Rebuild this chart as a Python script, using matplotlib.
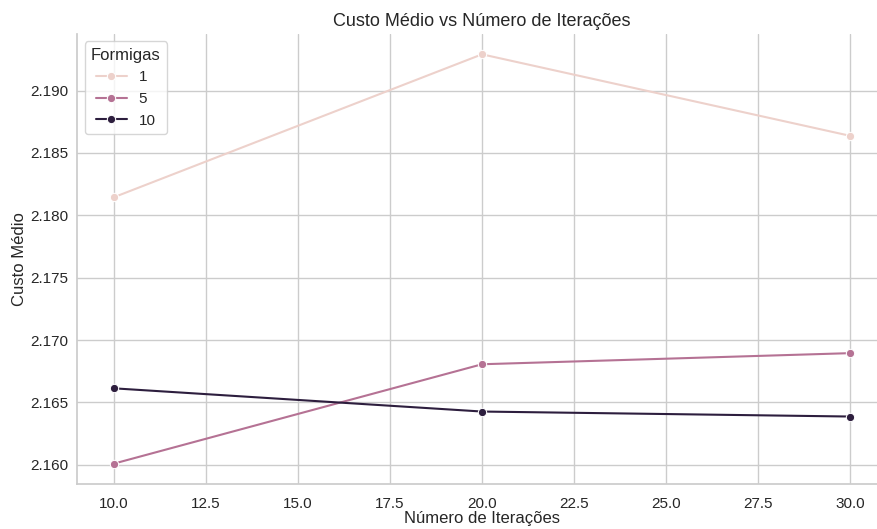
import pandas as pd
import seaborn as sns
import matplotlib.pyplot as plt

iteracoes = [10, 20, 30]
custo_1 = [2.18145, 2.19290, 2.18637]
custo_5 = [2.16010, 2.16806, 2.16895]
custo_10 = [2.16613, 2.16427, 2.16387]
formigas = [1, 5, 10]

df = pd.DataFrame({
    'Iteracoes': iteracoes * 3,
    'Custo': custo_1 + custo_5 + custo_10,
    'Formigas': [f for f in formigas for _ in iteracoes],
})

sns.set_theme(style='whitegrid')
plt.rcParams['font.family'] = ['Liberation Sans', 'DejaVu Sans']

fig, ax = plt.subplots(figsize=(8.78, 5.29), dpi=100)
sns.lineplot(data=df, x='Iteracoes', y='Custo', hue='Formigas', marker='o', ax=ax)
sns.despine(ax=ax)
ax.set_title('Custo Médio vs Número de Iterações', fontsize=13)
ax.set_xlabel('Número de Iterações', labelpad=0)
ax.set_ylabel('Custo Médio', labelpad=2)
ax.set_yticks([2.160, 2.165, 2.170, 2.175, 2.180, 2.185, 2.190])
ax.set_yticklabels(['2.160', '2.165', '2.170', '2.175', '2.180', '2.185', '2.190'])
ypad = plt.rcParams['ytick.major.pad']
ax.tick_params(axis='y', pad=max(ypad - 2.9, 0.5))
ax.legend(title='Formigas', loc='upper left')
fig.subplots_adjust(left=0.088, right=1.01, top=0.936, bottom=0.085)
fig.savefig('out.png')
